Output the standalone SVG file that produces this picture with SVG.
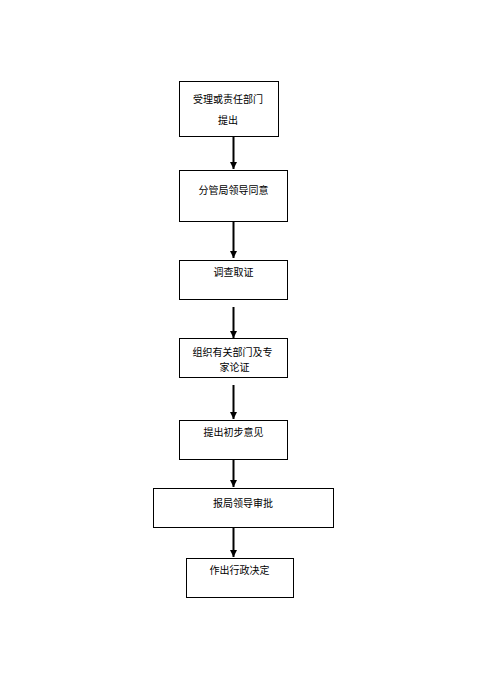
<svg xmlns="http://www.w3.org/2000/svg" width="477" height="698" viewBox="0 0 477 698">
<style>
.box{fill:#fff;stroke:#000;stroke-width:1}
.t{font-family:"Noto Sans CJK SC","Liberation Sans",sans-serif;font-size:10px;fill:#000;text-anchor:middle}
.c{stroke:#000;stroke-width:2;fill:none;marker-end:url(#ah)}
</style>
<defs>
<marker id="ah" markerUnits="userSpaceOnUse" markerWidth="7" markerHeight="7" refX="7" refY="3.5" orient="auto">
<path d="M0,0 L7,3.5 L0,7 z" fill="#000"/>
</marker>
</defs>
<rect width="477" height="698" fill="#fff"/>
<g id="connectors">
<line class="c" x1="233.5" y1="136" x2="233.5" y2="169"/>
<line class="c" x1="233.5" y1="221" x2="233.5" y2="258"/>
<line class="c" x1="233.5" y1="307" x2="233.5" y2="338"/>
<line class="c" x1="233.5" y1="385" x2="233.5" y2="419"/>
<line class="c" x1="233.5" y1="459" x2="233.5" y2="487"/>
<line class="c" x1="233.5" y1="527" x2="233.5" y2="557"/>
</g>
<g id="n1">
<rect class="box" x="179.5" y="81.5" width="99" height="55"/>
<text class="t" x="228" y="102.5">受理或责任部门</text>
<text class="t" x="228" y="123.5">提出</text>
</g>
<g id="n2">
<rect class="box" x="179.5" y="170.5" width="108" height="51"/>
<text class="t" x="233.5" y="194">分管局领导同意</text>
</g>
<g id="n3">
<rect class="box" x="179.5" y="260.5" width="108" height="39"/>
<text class="t" x="233.5" y="276">调查取证</text>
</g>
<g id="n4">
<rect class="box" x="179.5" y="338.5" width="108" height="39"/>
<text class="t" x="232.5" y="355.5">组织有关部门及专</text>
<text class="t" x="234.5" y="371">家论证</text>
</g>
<g id="n5">
<rect class="box" x="179.5" y="420.5" width="108" height="39"/>
<text class="t" x="233.5" y="436">提出初步意见</text>
</g>
<g id="n6">
<rect class="box" x="153.5" y="488.5" width="180" height="39"/>
<text class="t" x="243" y="506.5">报局领导审批</text>
</g>
<g id="n7">
<rect class="box" x="186.5" y="558.5" width="107" height="39"/>
<text class="t" x="239.5" y="574">作出行政决定</text>
</g>
</svg>
